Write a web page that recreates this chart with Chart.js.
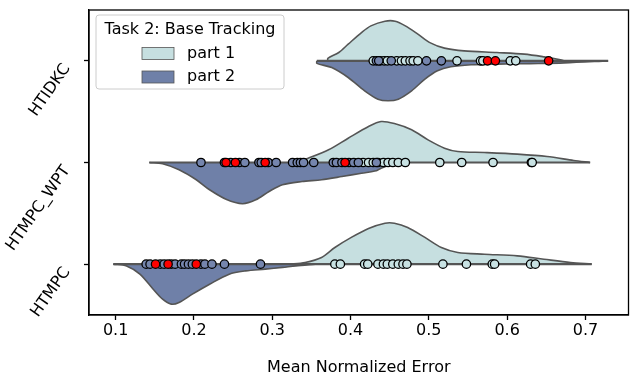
<!DOCTYPE html>
<html>
<head>
  <meta charset="UTF-8">
  <title>Task 2: Base Tracking</title>
  <script src="https://cdn.jsdelivr.net/npm/chart.js"></script>
  <style>
    body { margin: 0; background: #fff; }
    #chartContainer { width: 634px; height: 375px; }
  </style>
</head>
<body>
  <div id="chartContainer">
    <canvas id="violinChart" width="634" height="375"></canvas>
  </div>

  <script>
    // categories from bottom to top (y value = index)
    const categories = ['HTMPC', 'HTMPC_WPT', 'HTIDKC'];
    const xTicks = [0.1, 0.2, 0.3, 0.4, 0.5, 0.6, 0.7];
    const legendLabels = ['part 1', 'part 2'];

    // violin outlines: error value and half height (in category units)
    const htidkcP1X = [0.371, 0.371, 0.385, 0.397, 0.414, 0.426, 0.444, 0.457, 0.470, 0.486, 0.502, 0.520, 0.545, 0.587, 0.622, 0.647, 0.668, 0.673];
    const htidkcP1H = [0.000, 0.025, 0.082, 0.164, 0.278, 0.344, 0.390, 0.390, 0.344, 0.263, 0.177, 0.125, 0.098, 0.082, 0.066, 0.039, 0.010, 0.000];
    const htidkcP2X = [0.357, 0.357, 0.376, 0.397, 0.418, 0.435, 0.448, 0.461, 0.478, 0.495, 0.511, 0.528, 0.554, 0.588, 0.629, 0.673, 0.729];
    const htidkcP2H = [0.000, 0.025, 0.066, 0.164, 0.295, 0.377, 0.393, 0.377, 0.295, 0.180, 0.098, 0.059, 0.039, 0.032, 0.027, 0.020, 0.000];

    const wptP1X = [0.330, 0.346, 0.372, 0.397, 0.423, 0.439, 0.456, 0.478, 0.499, 0.520, 0.537, 0.571, 0.613, 0.651, 0.685, 0.706];
    const wptP1H = [0.000, 0.042, 0.125, 0.239, 0.354, 0.403, 0.383, 0.322, 0.223, 0.141, 0.108, 0.098, 0.082, 0.059, 0.020, 0.000];
    const wptP2X = [0.143, 0.160, 0.181, 0.203, 0.220, 0.241, 0.262, 0.279, 0.296, 0.313, 0.338, 0.363, 0.389, 0.414, 0.433, 0.439, 0.457, 0.467];
    const wptP2H = [0.000, 0.013, 0.072, 0.170, 0.268, 0.361, 0.405, 0.367, 0.285, 0.219, 0.187, 0.170, 0.138, 0.105, 0.082, 0.056, 0.013, 0.000];

    const htmpcP1X = [0.321, 0.342, 0.363, 0.380, 0.401, 0.423, 0.444, 0.456, 0.473, 0.495, 0.516, 0.537, 0.571, 0.613, 0.647, 0.681, 0.708];
    const htmpcP1H = [0.000, 0.017, 0.066, 0.164, 0.263, 0.351, 0.403, 0.403, 0.361, 0.263, 0.164, 0.115, 0.098, 0.082, 0.049, 0.017, 0.000];
    const htmpcP2X = [0.097, 0.114, 0.131, 0.148, 0.160, 0.171, 0.181, 0.198, 0.220, 0.245, 0.266, 0.291, 0.313, 0.330, 0.355];
    const htmpcP2H = [0.000, 0.017, 0.098, 0.246, 0.344, 0.393, 0.377, 0.295, 0.197, 0.098, 0.066, 0.049, 0.032, 0.017, 0.000];

    // individual runs (drawn on the centre line)
    const htidkcLight = [0.429, 0.438, 0.443, 0.447, 0.459, 0.465, 0.470, 0.476, 0.480, 0.486, 0.536, 0.566, 0.569, 0.604, 0.611];
    const htidkcDark  = [0.433, 0.436, 0.452, 0.497, 0.516];
    const htidkcRed   = [0.575, 0.585, 0.653];

    const wptLight = [0.416, 0.423, 0.429, 0.435, 0.442, 0.448, 0.454, 0.461, 0.470, 0.514, 0.542, 0.582, 0.631, 0.632];
    const wptDark  = [0.209, 0.239, 0.247, 0.258, 0.265, 0.283, 0.286, 0.295, 0.305, 0.326, 0.332, 0.336, 0.340, 0.353, 0.378, 0.382, 0.389, 0.398, 0.404, 0.410, 0.433];
    const wptRed   = [0.241, 0.253, 0.291, 0.393];

    const htmpcLight = [0.380, 0.387, 0.418, 0.422, 0.435, 0.442, 0.447, 0.454, 0.461, 0.467, 0.472, 0.518, 0.548, 0.581, 0.584, 0.630, 0.636];
    const htmpcDark  = [0.139, 0.144, 0.157, 0.162, 0.171, 0.176, 0.184, 0.188, 0.193, 0.198, 0.209, 0.214, 0.223, 0.239, 0.285];
    const htmpcRed   = [0.151, 0.167, 0.203];

    const FONT = 'DejaVu Sans';
    const FONT_SIZE = 16;
    const lightFill = '#c6dfe0';
    const darkFill = '#6f80a8';
    const edge = '#555555';

    // one half of a split violin, filled towards the centre line
    function violinHalf(xs, hs, cat, sign, color) {
      return {
        type: 'line',
        data: xs.map((v, i) => ({ x: v, y: cat + sign * hs[i] })),
        fill: { value: cat },
        backgroundColor: color,
        borderColor: edge,
        borderWidth: 1.6,
        pointRadius: 0,
        tension: 0.3,
        order: 10
      };
    }

    function centreLine(xs1, xs2, cat) {
      const all = xs1.concat(xs2);
      return {
        type: 'line',
        data: [{ x: Math.min(...all), y: cat }, { x: Math.max(...all), y: cat }],
        borderColor: edge,
        borderWidth: 2.2,
        pointRadius: 0,
        fill: false,
        order: 9
      };
    }

    function runPoints(xs, cat, color, order) {
      return {
        type: 'scatter',
        data: xs.map(v => ({ x: v, y: cat })),
        backgroundColor: color,
        borderColor: '#000',
        borderWidth: 1.3,
        pointRadius: 4.2,
        order: order
      };
    }

    const datasets = [
      violinHalf(htmpcP1X, htmpcP1H, 0, 1, lightFill),
      violinHalf(htmpcP2X, htmpcP2H, 0, -1, darkFill),
      violinHalf(wptP1X, wptP1H, 1, 1, lightFill),
      violinHalf(wptP2X, wptP2H, 1, -1, darkFill),
      violinHalf(htidkcP1X, htidkcP1H, 2, 1, lightFill),
      violinHalf(htidkcP2X, htidkcP2H, 2, -1, darkFill),
      centreLine(htmpcP1X, htmpcP2X, 0),
      centreLine(wptP1X, wptP2X, 1),
      centreLine(htidkcP1X, htidkcP2X, 2),
      runPoints(htmpcLight, 0, '#c8e2e3', 3),
      runPoints(wptLight, 1, '#c8e2e3', 3),
      runPoints(htidkcLight, 2, '#c8e2e3', 3),
      runPoints(htmpcDark, 0, '#7585ad', 2),
      runPoints(wptDark, 1, '#7585ad', 2),
      runPoints(htidkcDark, 2, '#7585ad', 2),
      runPoints(htmpcRed, 0, '#ff0000', 1),
      runPoints(wptRed, 1, '#ff0000', 1),
      runPoints(htidkcRed, 2, '#ff0000', 1)
    ];

    // frame, rotated category labels and the legend box
    const extras = {
      id: 'extras',
      afterDraw(chart) {
        const ctx = chart.ctx;
        const a = chart.chartArea;
        ctx.save();
        ctx.strokeStyle = '#000';
        ctx.lineWidth = 1.3;
        ctx.strokeRect(a.left, a.top, a.right - a.left, a.bottom - a.top);

        // y labels
        const yScale = chart.scales.y;
        ctx.fillStyle = '#000';
        ctx.font = FONT_SIZE + 'px "' + FONT + '"';
        categories.forEach((c, i) => {
          const y = yScale.getPixelForValue(i);
          ctx.save();
          ctx.translate(a.left - 22, y + 5);
          ctx.rotate(-55 * Math.PI / 180);
          ctx.textAlign = 'right';
          ctx.textBaseline = 'middle';
          ctx.fillText(c, 0, 0);
          ctx.restore();
        });

        // legend
        const lx = 96, ly = 15, lw = 188, lh = 74;
        ctx.beginPath();
        ctx.roundRect(lx, ly, lw, lh, 3);
        ctx.fillStyle = 'rgba(255,255,255,0.8)';
        ctx.fill();
        ctx.strokeStyle = '#cccccc';
        ctx.lineWidth = 1;
        ctx.stroke();
        ctx.fillStyle = '#000';
        ctx.textAlign = 'center';
        ctx.textBaseline = 'middle';
        ctx.fillText('Task 2: Base Tracking', lx + lw / 2, 30);
        [lightFill, darkFill].forEach((col, i) => {
          const py = 47.5 + i * 23.5;
          ctx.fillStyle = col;
          ctx.fillRect(142, py, 32, 12);
          ctx.strokeStyle = edge;
          ctx.lineWidth = 0.8;
          ctx.strokeRect(142, py, 32, 12);
          ctx.fillStyle = '#000';
          ctx.textAlign = 'left';
          ctx.fillText(legendLabels[i], 187, py + 6);
        });
        ctx.restore();
      }
    };

    new Chart(document.getElementById('violinChart'), {
      type: 'scatter',
      data: { datasets: datasets },
      options: {
        responsive: false,
        animation: false,
        devicePixelRatio: 1,
        layout: { padding: { top: 10, right: 2, left: 0, bottom: 0 } },
        plugins: { legend: { display: false }, tooltip: { enabled: false } },
        scales: {
          x: {
            type: 'linear',
            min: 0.066,
            max: 0.755,
            afterBuildTicks: scale => { scale.ticks = xTicks.map(v => ({ value: v })); },
            afterFit: scale => { scale.height = 60; },
            ticks: {
              color: '#000',
              font: { family: FONT, size: FONT_SIZE },
              padding: 1,
              maxRotation: 0,
              callback: v => v.toFixed(1)
            },
            grid: { drawOnChartArea: false, color: '#000', tickLength: 5, tickWidth: 1.3 },
            border: { color: '#000', width: 1.3 },
            title: {
              display: true,
              text: 'Mean Normalized Error',
              color: '#000',
              font: { family: FONT, size: FONT_SIZE },
              padding: { top: 0, bottom: -2 }
            }
          },
          y: {
            type: 'linear',
            min: -0.5,
            max: 2.5,
            afterBuildTicks: scale => { scale.ticks = [0, 1, 2].map(v => ({ value: v })); },
            afterFit: scale => { scale.width = 89; },
            ticks: { display: false },
            grid: { drawOnChartArea: false, color: '#000', tickLength: 5, tickWidth: 1.3 },
            border: { color: '#000', width: 1.3 }
          }
        }
      },
      plugins: [extras]
    });
  </script>
</body>
</html>
